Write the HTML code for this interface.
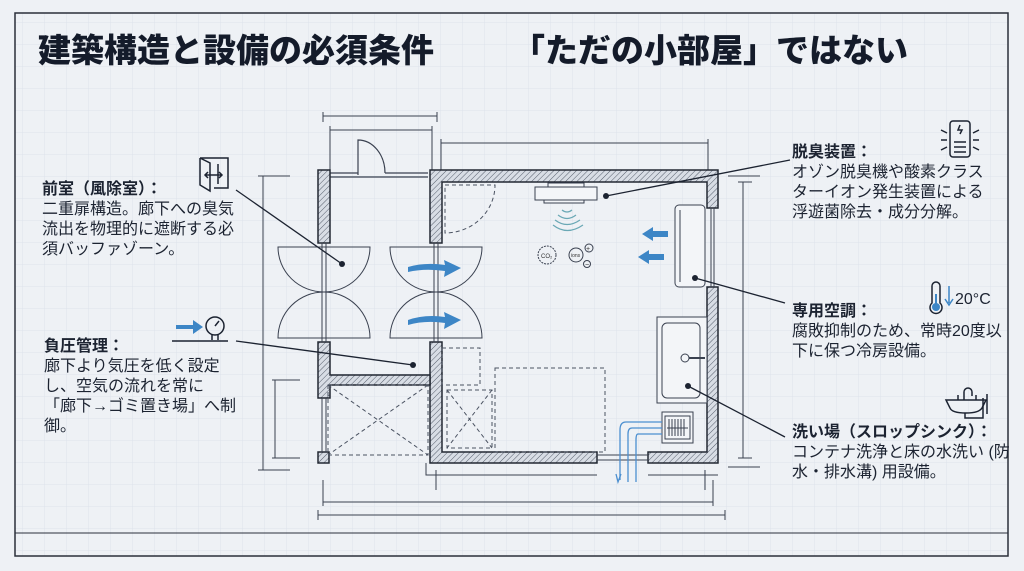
<!DOCTYPE html>
<html><head><meta charset="utf-8"><style>
html,body{margin:0;padding:0;width:1024px;height:571px;overflow:hidden;background:#eef1f5;}
body{font-family:"Liberation Sans","Noto Sans CJK JP",sans-serif;color:#1a2233;}
.t{position:absolute;font-size:16px;line-height:20px;color:#1c2331;white-space:nowrap;}
.t b{font-weight:700;}
</style></head><body>
<svg width="1024" height="571" style="position:absolute;left:0;top:0" xmlns="http://www.w3.org/2000/svg">
<defs>
<pattern id="g" width="22" height="22" patternUnits="userSpaceOnUse"><path d="M22 0H0V22" fill="none" stroke="#dde3eb" stroke-width="1"/></pattern>
<pattern id="h" width="4" height="4" patternUnits="userSpaceOnUse" patternTransform="rotate(45)"><rect width="4" height="4" fill="#d8dde5"/><line x1="0" y1="0" x2="0" y2="4" stroke="#555d6b" stroke-width="1"/></pattern>
</defs>
<rect width="1024" height="571" fill="#eef1f5"/>
<rect x="15" y="13" width="993" height="543" fill="url(#g)"/>
<rect x="15" y="13" width="993" height="543" fill="none" stroke="#2a2f3a" stroke-width="1.5"/>
<line x1="15" y1="533" x2="1008" y2="533" stroke="#2a2f3a" stroke-width="1"/>
<text x="38" y="62" font-family="Noto Sans CJK JP,sans-serif" font-size="33" font-weight="900" fill="#141b2a">建築構造と設備の必須条件</text>
<text x="512" y="62" font-family="Noto Sans CJK JP,sans-serif" font-size="33" font-weight="900" fill="#141b2a">「ただの小部屋」ではない</text>
<g stroke="#3a4150" stroke-width="1" fill="none">
<path d="M323 116H437M323 112V122M437 112V122"/>
<path d="M330 130H432M330 126V176M432 126V170"/>
<path d="M441 143H708M441 139V170M708 139V170"/>
<path d="M263 176V470M258 176H290M258 470H290"/>
<path d="M275 380V458M272 380H300M272 458H300"/>
<path d="M728 176H760M743 182V458M738 182H752M738 458H752M728 467H760"/>
<path d="M323 502H713M323 480V506M713 480V506"/>
<path d="M318 515H725M318 510V520M725 510V520"/>
<path d="M436 470V490M705 470V490"/>
</g>
<g stroke="#3a4150" stroke-width="1.2" fill="none">
<path d="M330 173H358M385 173H428M330 177H428"/>
<path d="M358 175V140A27 33 0 0 1 385 173"/>
</g>
<g fill="url(#h)" stroke="#222833" stroke-width="1.5">
<path d="M430 170H718V208H707V182H442V243H430Z"/>
<path d="M707 287H718V463H648V452H707Z"/>
<path d="M430 342H442V452H597V463H430Z"/>
<rect x="318" y="170" width="12" height="73"/>
<path d="M318 342H330V375H430V385H330V398H318Z"/>
<rect x="318" y="452" width="11" height="11"/>
</g>
<g stroke="#3a4150" stroke-width="1" fill="none">
<path d="M597 455H648M597 460H648"/>
<path d="M711 208V287M714 208V287"/>
<path d="M322 243V342M326 243V342M434 243V342M438 243V342"/>
<path d="M322 398V452M326 398V452"/>
<path d="M426 463V475H597M648 475H718"/>
<path d="M278 247H370A46 45 0 0 1 278 247Z"/>
<path d="M278 338H370A46 46 0 0 0 278 338Z"/>
<path d="M390 247H482A46 45 0 0 1 390 247Z"/>
<path d="M390 338H482A46 46 0 0 0 390 338Z"/>
</g>
<g stroke="#4a5261" stroke-width="1" fill="none" stroke-dasharray="4 3">
<path d="M445 185H495A50 48 0 0 1 445 233Z"/>
<rect x="442" y="348" width="38" height="37"/>
<rect x="447" y="390" width="45" height="58"/>
<path d="M447 390L492 448M492 390L447 448"/>
<rect x="495" y="368" width="110" height="84"/>
<rect x="328" y="385" width="100" height="70"/>
<path d="M328 385L428 455M428 385L328 455"/>
</g>
<g stroke="#3a4150" stroke-width="1" fill="#f3f5f8">
<rect x="535" y="187" width="62" height="13"/>
<rect x="548" y="183" width="36" height="4"/>
<rect x="544" y="200" width="40" height="3"/>
</g>
<g stroke="#6aa8b5" stroke-width="1.2" fill="none">
<path d="M562 210Q567 214 572 210"/><path d="M558 215Q567 222 576 215"/><path d="M555 220Q567 229 580 220"/><path d="M553 225Q567 236 583 225"/>
</g>
<g stroke="#3a4150" stroke-width="1" fill="none">
<circle cx="547" cy="255" r="9" stroke-dasharray="2 1"/>
<circle cx="576" cy="255" r="7"/>
<circle cx="589" cy="248" r="4"/><circle cx="587" cy="264" r="3.5"/>
</g>
<text x="541" y="258" font-size="6" fill="#333">CO₂</text>
<text x="571" y="257" font-size="5" fill="#333">ions</text>
<text x="586" y="251" font-size="7" fill="#333">+</text>
<text x="585" y="267" font-size="7" fill="#333">−</text>
<g fill="#3d86c6">
<path d="M642 234L653 227V231H668V237H653V241Z"/>
<path d="M638 257L649 250V254H664V260H649V264Z"/>
<path d="M408 267Q425 262 445 265L444 260L461 268L444 277L445 271Q425 268 408 272Z"/>
<path d="M408 320Q425 314 445 317L444 312L461 320L444 329L445 323Q425 320 408 325Z"/>
</g>
<rect x="675" y="205" width="30" height="82" rx="4" fill="#f3f5f8" stroke="#3a4150"/>
<line x1="680" y1="210" x2="680" y2="282" stroke="#3a4150"/>
<rect x="657" y="317" width="50" height="86" fill="#f3f5f8" stroke="#3a4150"/>
<rect x="662" y="323" width="38" height="75" rx="5" fill="none" stroke="#3a4150"/>
<circle cx="685" cy="358" r="4" fill="none" stroke="#3a4150"/>
<path d="M689 358H705" stroke="#3a4150" stroke-width="2"/>
<rect x="662" y="412" width="31" height="31" fill="#f3f5f8" stroke="#3a4150"/>
<rect x="665" y="416" width="25" height="23" fill="none" stroke="#3a4150"/>
<path d="M669 419V436M672 419V436M675 419V436M678 419V436M681 419V436M684 419V436M667 428H688" stroke="#3a4150"/>
<g stroke="#4c8fd0" stroke-width="1.3" fill="none">
<path d="M662 422H626Q620 422 620 430V480"/>
<path d="M662 428H632Q628 428 628 434V482"/>
<path d="M662 434H638Q636 434 636 440V482"/>
<path d="M616 474L618 482L621 474"/>
</g>
<g stroke="#1c2331" stroke-width="1.3">
<line x1="236" y1="190" x2="342" y2="264"/>
<line x1="236" y1="341" x2="413" y2="365"/>
<line x1="790" y1="160" x2="606" y2="196"/>
<line x1="785" y1="303" x2="695" y2="278"/>
<line x1="785" y1="437" x2="688" y2="386"/>
</g>
<g fill="#1c2331"><circle cx="342" cy="264" r="3"/><circle cx="413" cy="365" r="3"/><circle cx="606" cy="196" r="3"/><circle cx="695" cy="278" r="3"/><circle cx="688" cy="386" r="3"/></g>
<g stroke="#1c2331" stroke-width="1.5" fill="none">
<path d="M200 158H228V188H214M200 158V185L210 191V163L200 158M218 164V184"/>
<path d="M205 175H222M208 172L205 175L208 178M219 172L222 175L219 178"/>
<circle cx="215" cy="326" r="9"/><path d="M215 326L219 321M212 335V340M218 335V340M172 341H228"/>
<rect x="950" y="121" width="20" height="36" rx="3"/><path d="M954 142H966M954 147H966M954 152H966M941 130L947 133M941 140H947M941 150L947 147M979 130L973 133M979 140H973M979 150L973 147"/>
<path d="M960 125L958 130H962L960 134"/>
<path d="M932 286A4 4 0 0 1 940 286V303A6 6 0 1 1 932 303Z"/>
<g transform="translate(0,82)"><path d="M946 318H986L982 326Q979 331 966 331Q952 331 950 326Z"/><path d="M964 318V310A4 4 0 0 1 972 310V314M958 313V318M976 313V318M965 331V336H983V316M987 312V332"/></g>
</g>
<circle cx="936" cy="307" r="4" fill="#3d86c6"/>
<line x1="936" y1="307" x2="936" y2="294" stroke="#3d86c6" stroke-width="2"/>
<path d="M949 286V303M945 299L949 305L953 299" stroke="#3d86c6" stroke-width="1.5" fill="none"/>
<path d="M176 325H193V320L203 327L193 334V329H176Z" fill="#3d86c6"/>
<text x="955" y="304" font-size="16" fill="#1c2331">20°C</text>
</svg>
<div class="t" style="left:42px;top:180px"><b>前室（風除室）：</b><br>二重扉構造。廊下への臭気<br>流出を物理的に遮断する必<br>須バッファゾーン。</div>
<div class="t" style="left:44px;top:337px"><b>負圧管理：</b><br>廊下より気圧を低く設定<br>し、空気の流れを常に<br>「廊下→ゴミ置き場」へ制<br>御。</div>
<div class="t" style="left:792px;top:143px"><b>脱臭装置：</b><br>オゾン脱臭機や酸素クラス<br>ターイオン発生装置による<br>浮遊菌除去・成分分解。</div>
<div class="t" style="left:792px;top:302px"><b>専用空調：</b><br>腐敗抑制のため、常時20度以<br>下に保つ冷房設備。</div>
<div class="t" style="left:792px;top:423px"><b>洗い場（スロップシンク）：</b><br>コンテナ洗浄と床の水洗い (防<br>水・排水溝) 用設備。</div>
</body></html>
